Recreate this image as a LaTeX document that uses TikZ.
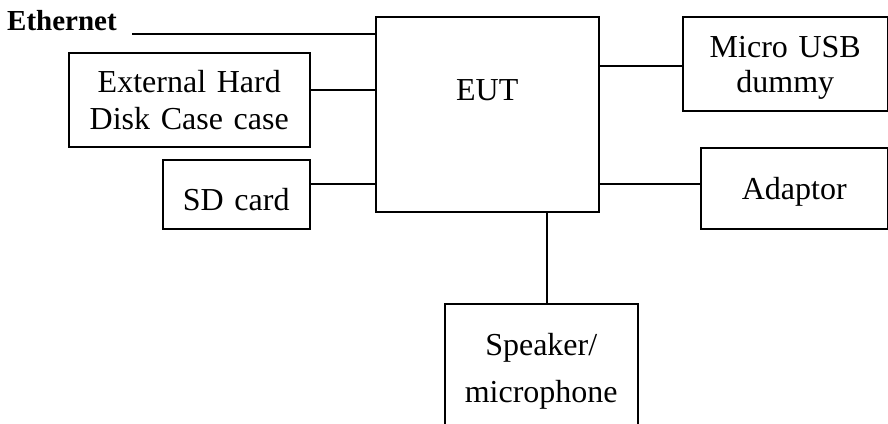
\documentclass[tikz,border=0pt]{standalone}
\usepackage{fontspec}
\setmainfont{Liberation Serif}
\usetikzlibrary{positioning}
\tikzstyle{block} = [rectangle, draw=black, line width=1.5pt, inner sep=0pt, align=center, anchor=north west, font=\fontsize{32}{37}\selectfont]
\tikzstyle{wire} = [line width=1.5pt]

\begin{document}
\begin{tikzpicture}[x=1pt, y=-1pt]

    \clip (0,0) rectangle (888,423);

    \node (eth) [anchor=base west, inner sep=0pt, font=\bfseries\fontsize{29}{32}\selectfont] at (7,30) {Ethernet};
    \coordinate (ethin) at (132,34);
    \node (eut) [block, text width=223pt, text height=84pt, text depth=111pt] at (375,16) {EUT};
    \node (ext) [block, text width=241pt, text height=40pt, text depth=54pt] at (68,52) {External Hard\\Disk Case case};
    \node (sd) [block, text width=147pt, text height=51pt, text depth=18pt] at (162,159) {SD card};
    \node (usb) [block, text width=205pt, text height=41pt, text depth=53pt, font=\fontsize{32}{35}\selectfont] at (682,16) {Micro USB\\dummy};
    \node (adp) [block, text width=187pt, text height=52pt, text depth=29pt] at (700,147) {Adaptor};
    \node (spk) [block, text width=193pt, text height=52pt, text depth=145pt, font=\fontsize{32}{47}\selectfont] at (444,303) {Speaker/\\microphone};

    \draw [wire] (ethin) -- (ethin -| eut.west);
    \draw [wire] ([yshift=10pt]ext.east) -- ([yshift=10pt]ext.east -| eut.west);
    \draw [wire] ([yshift=10.5pt]sd.east) -- ([yshift=10.5pt]sd.east -| eut.west);
    \draw [wire] ([yshift=-2pt]usb.west) -- ([yshift=-2pt]usb.west -| eut.east);
    \draw [wire] ([yshift=4.5pt]adp.west) -- ([yshift=4.5pt]adp.west -| eut.east);
    \draw [wire] ([xshift=5.5pt]spk.north) -- ([xshift=5.5pt]spk.north |- eut.south);

\end{tikzpicture}
\end{document}
